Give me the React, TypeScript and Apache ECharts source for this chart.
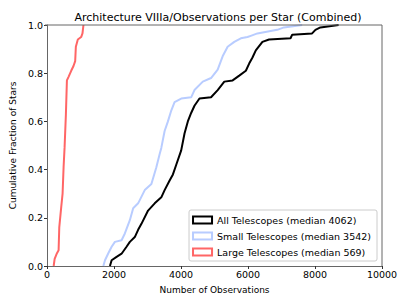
import React, { useEffect, useRef } from "react";
import * as echarts from "echarts";

const allX = [1879, 1929, 2077, 2226, 2374, 2473, 2621, 2720, 2819, 3017, 3215, 3412, 3511, 3660, 3759, 3858, 4006, 4105, 4204, 4303, 4402, 4551, 4897, 5095, 5293, 5541, 5739, 5936, 6035, 6134, 6233, 6430, 6628, 7270, 7320, 7913, 8013, 8161, 8705];
const allY = [0, 0.024, 0.038, 0.051, 0.08, 0.10, 0.12, 0.15, 0.175, 0.23, 0.26, 0.285, 0.315, 0.355, 0.38, 0.42, 0.48, 0.55, 0.60, 0.635, 0.665, 0.695, 0.70, 0.73, 0.765, 0.77, 0.79, 0.81, 0.84, 0.865, 0.895, 0.93, 0.94, 0.945, 0.96, 0.965, 0.98, 0.99, 1.0];

const smallX = [1682, 1731, 1830, 1929, 2027, 2226, 2324, 2473, 2572, 2720, 2918, 3116, 3264, 3363, 3412, 3511, 3610, 3709, 3808, 4006, 4303, 4402, 4650, 4897, 5095, 5243, 5392, 5590, 5786, 5985, 6083, 6281, 6478, 6874, 7072, 7617];
const smallY = [0, 0.024, 0.053, 0.08, 0.10, 0.107, 0.135, 0.19, 0.24, 0.26, 0.315, 0.34, 0.41, 0.465, 0.49, 0.56, 0.60, 0.645, 0.68, 0.695, 0.70, 0.73, 0.765, 0.78, 0.815, 0.87, 0.91, 0.93, 0.945, 0.95, 0.955, 0.965, 0.97, 0.98, 0.99, 1.0];

const largeX = [199, 228, 297, 346, 366, 425, 465, 495, 524, 564, 594, 643, 722, 791, 841, 861, 920, 1019, 1059, 1088];
const largeY = [0, 0.03, 0.053, 0.065, 0.16, 0.245, 0.30, 0.41, 0.49, 0.63, 0.77, 0.785, 0.81, 0.83, 0.85, 0.91, 0.94, 0.95, 0.965, 1.0];

const seriesNames = [
  "All Telescopes (median 4062)",
  "Small Telescopes (median 3542)",
  "Large Telescopes (median 569)",
];
const seriesColors = ["#000000", "#b8ccff", "#ff6666"];

const zip = (xs: number[], ys: number[]) => xs.map((x, i) => [x, ys[i]]);

export default function App() {
  const ref = useRef<HTMLDivElement>(null);
  useEffect(() => {
    if (!ref.current) return;
    const chart = echarts.init(ref.current, undefined, { renderer: "svg" });
    const font = "DejaVu Sans";
    const datasets = [zip(allX, allY), zip(smallX, smallY), zip(largeX, largeY)];
    chart.setOption({
      animation: false,
      textStyle: { fontFamily: font },
      title: {
        text: "Architecture VIIIa/Observations per Star (Combined)",
        left: 213,
        textAlign: "center",
        top: 7,
        textStyle: { fontFamily: font, fontSize: 11, fontWeight: "normal", color: "#000" },
      },
      grid: { left: 45, right: 25, top: 25, bottom: 39 },
      legend: {
        orient: "vertical",
        right: 30,
        bottom: 44,
        itemWidth: 19,
        itemHeight: 7,
        itemGap: 6,
        padding: [5, 6, 4, 3],
        borderColor: "#cccccc",
        borderWidth: 1,
        borderRadius: 2,
        backgroundColor: "#ffffff",
        textStyle: { fontFamily: font, fontSize: 9.5, color: "#000" },
        data: seriesNames.map((n, i) => ({
          name: n,
          icon: "rect",
          itemStyle: { color: "#ffffff", borderColor: seriesColors[i], borderWidth: 2 },
        })),
      },
      xAxis: {
        type: "value",
        min: 0,
        max: 10000,
        interval: 2000,
        name: "Number of Observations",
        nameLocation: "middle",
        nameGap: 19,
        nameTextStyle: { fontFamily: font, fontSize: 9, color: "#000" },
        axisLine: { onZero: false, lineStyle: { color: "#666", width: 1 } },
        axisTick: { length: 3, lineStyle: { color: "#333" } },
        axisLabel: {
          fontFamily: font,
          fontSize: 9.5,
          color: "#000",
          margin: 3,
          formatter: (v: number) => String(v),
        },
        splitLine: { show: false },
      },
      yAxis: {
        type: "value",
        min: 0,
        max: 1,
        interval: 0.2,
        name: "Cumulative Fraction of Stars",
        nameLocation: "middle",
        nameGap: 29,
        nameTextStyle: { fontFamily: font, fontSize: 9, color: "#000" },
        axisLine: { lineStyle: { color: "#666", width: 1 } },
        axisTick: { length: 3, lineStyle: { color: "#333" } },
        axisLabel: {
          fontFamily: font,
          fontSize: 9.5,
          color: "#000",
          margin: 4,
          formatter: (v: number) => v.toFixed(1),
        },
        splitLine: { show: false },
      },
      series: datasets.map((d, i) => ({
        type: "line",
        name: seriesNames[i],
        data: d,
        showSymbol: false,
        symbol: "none",
        color: seriesColors[i],
        lineStyle: { color: seriesColors[i], width: 2 },
        z: 3 - i,
      })),
      graphic: [
        {
          type: "line",
          shape: { x1: 45, y1: 25, x2: 382, y2: 25 },
          style: { stroke: "#666", lineWidth: 1 },
          z: 10,
        },
        {
          type: "line",
          shape: { x1: 382, y1: 25, x2: 382, y2: 266 },
          style: { stroke: "#666", lineWidth: 1 },
          z: 10,
        },
      ],
    });
    return () => chart.dispose();
  }, []);
  return <div ref={ref} style={{ width: 407, height: 305, position: "absolute", left: 0, top: 0 }} />;
}
